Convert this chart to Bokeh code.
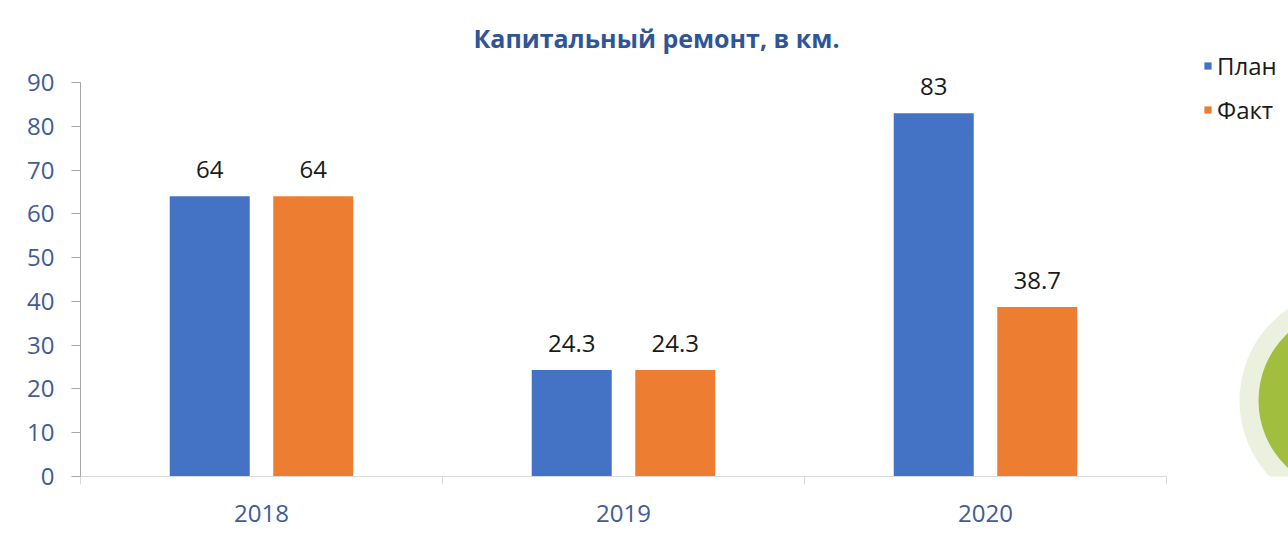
import numpy as np
from bokeh.plotting import figure
from bokeh.models import (ColumnDataSource, FixedTicker, Legend, LegendItem, Label)
from bokeh.core.properties import value
from bokeh.embed import file_html
from bokeh.resources import INLINE

# ---- data ----
categories = ["2018", "2019", "2020"]
plan = [64, 24.3, 83]
fact = [64, 24.3, 38.7]
series_names = ["План", "Факт"]
y_ticks = [0, 10, 20, 30, 40, 50, 60, 70, 80, 90]
title_text = "Капитальный ремонт, в км."

BLUE = "#4472C4"
ORANGE = "#ED7D31"
LABEL_BLUE = "#415C96"
FONT = "Open Sans"

# ---- layout (pixels) ----
W, H = 1288, 539
LEFT, TOP, BOTTOM = 80, 0, 63
Y_MAX = 90
PX_PER_CAT = 362.0
PX_PER_Y = 394.0 / Y_MAX
frame_h = H - TOP - BOTTOM
x_end = (W - LEFT) / PX_PER_CAT
y_end = frame_h / PX_PER_Y

idx = np.arange(len(categories)) + 0.5
off = 0.143
bw = 0.221

p = figure(width=W, height=H, x_range=(0, x_end), y_range=(0, y_end),
           output_backend="svg", toolbar_location=None,
           min_border_left=LEFT, min_border_right=0,
           min_border_top=TOP, min_border_bottom=BOTTOM)
p.outline_line_color = None
p.xgrid.visible = False
p.ygrid.visible = False
p.background_fill_color = None
p.border_fill_color = "white"

# decorative circles at the right edge (screen-sized)
cx = (1350 - LEFT) / PX_PER_CAT
cy = (H - BOTTOM - 400) / PX_PER_Y
p.circle(x=[cx], y=[cy], radius=111, radius_units="screen",
         fill_color="#EBF1DE", line_color=None)
p.circle(x=[cx], y=[cy], radius=92, radius_units="screen",
         fill_color="#A1BE3E", line_color=None)

src_plan = ColumnDataSource(dict(x=idx - off, top=plan, lab=[f"{v:g}" for v in plan]))
src_fact = ColumnDataSource(dict(x=idx + off, top=fact, lab=[f"{v:g}" for v in fact]))

r_plan = p.vbar(x="x", top="top", width=bw, bottom=0, source=src_plan,
                fill_color=BLUE, line_color=None)
r_fact = p.vbar(x="x", top="top", width=bw, bottom=0, source=src_fact,
                fill_color=ORANGE, line_color=None)

for s in (src_plan, src_fact):
    p.text(x="x", y="top", text="lab", source=s, text_align="center",
           text_baseline="middle", y_offset=-27, text_font=value(FONT),
           text_font_size="24px", text_color="#1a1a1a")

# axes
p.yaxis.ticker = FixedTicker(ticks=y_ticks)
p.yaxis.bounds = (0, Y_MAX)
p.yaxis.axis_line_color = "#A6A6A6"
p.yaxis.major_tick_line_color = "#A6A6A6"
p.yaxis.major_tick_out = 9
p.yaxis.major_tick_in = 0
p.yaxis.minor_tick_line_color = None
p.yaxis.major_label_standoff = 17
p.yaxis.major_label_text_font = FONT
p.yaxis.major_label_text_font_size = "24px"
p.yaxis.major_label_text_color = LABEL_BLUE

p.xaxis.ticker = FixedTicker(ticks=list(idx), minor_ticks=list(range(len(categories) + 1)))
p.xaxis.bounds = (0, len(categories))
p.xaxis.major_label_overrides = {float(v): c for v, c in zip(idx, categories)}
p.xaxis.axis_line_color = "#D9D9D9"
p.xaxis.major_tick_line_color = None
p.xaxis.minor_tick_line_color = "#D9D9D9"
p.xaxis.minor_tick_out = 8
p.xaxis.minor_tick_in = 0
p.xaxis.major_label_standoff = 20
p.xaxis.major_label_text_font = FONT
p.xaxis.major_label_text_font_size = "24px"
p.xaxis.major_label_text_color = LABEL_BLUE

# title (inside the tall frame, above the plotting area)
title = Label(x=(656 - LEFT) / PX_PER_CAT, y=(H - BOTTOM - 37) / PX_PER_Y,
              text=title_text, text_align="center", text_baseline="middle",
              text_font=FONT, text_font_size="25px", text_font_style="bold",
              text_color="#2F5597")
p.add_layout(title)

# legend
legend = Legend(items=[LegendItem(label=series_names[0], renderers=[r_plan]),
                       LegendItem(label=series_names[1], renderers=[r_fact])],
                location=(1123, 350), orientation="vertical",
                glyph_width=9, glyph_height=9, label_text_font=FONT,
                label_text_font_size="24px", label_text_color="#1a1a1a",
                spacing=11, padding=0, margin=0, label_standoff=5,
                border_line_color=None, background_fill_alpha=0)
p.add_layout(legend, "center")

open("out.html", "w").write(file_html(p, INLINE))
